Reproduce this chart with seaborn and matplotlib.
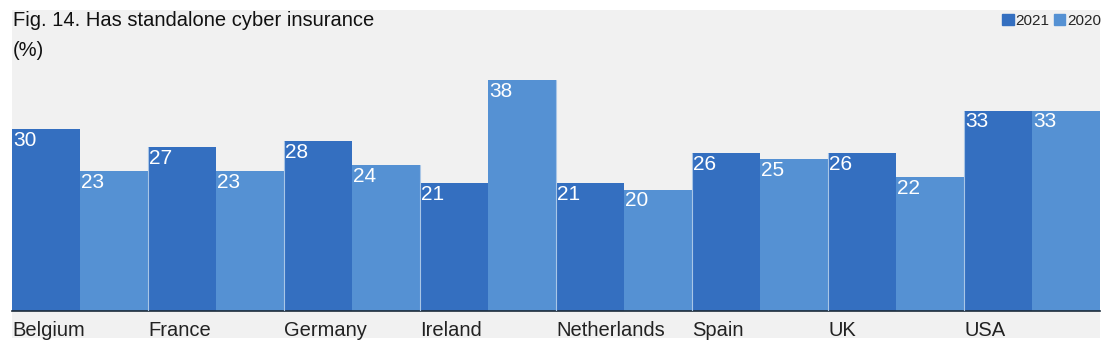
import pandas as pd
import matplotlib
matplotlib.use("Agg")
import matplotlib.pyplot as plt
import matplotlib.transforms as mtransforms
import seaborn as sns
from matplotlib.patches import Rectangle

countries = ["Belgium", "France", "Germany", "Ireland", "Netherlands", "Spain", "UK", "USA"]
years = ["2021", "2020"]
values_2021 = [30, 27, 28, 21, 21, 26, 26, 33]
values_2020 = [23, 23, 24, 38, 20, 25, 22, 33]
colors = {"2021": "#346fc0", "2020": "#5591d3"}

df = pd.DataFrame({
    "country": countries * 2,
    "year": ["2021"] * len(countries) + ["2020"] * len(countries),
    "value": values_2021 + values_2020,
})

sns.set_theme(style="white")
plt.rcParams["font.family"] = ["Liberation Sans", "DejaVu Sans"]

W, H = 1115, 351
fig = plt.figure(figsize=(W / 100, H / 100), dpi=100, facecolor="white")

# grey panel behind everything
fig.patches.append(Rectangle((12 / W, 13 / H), 1088 / W, 328 / H,
                             transform=fig.transFigure, facecolor="#f1f1f1",
                             edgecolor="none", zorder=-10))

ax = fig.add_axes([12 / W, 40 / H, 1088 / W, 243 / H])
ax.set_facecolor("none")

sns.barplot(data=df, x="country", y="value", hue="year", hue_order=years,
            palette=colors, width=1.0, dodge=True, gap=0, saturation=1,
            edgecolor="none", linewidth=0, legend=False, ax=ax)

ax.set_xlim(-0.5, len(countries) - 0.5)
ax.set_ylim(0, 40)

# thin light separator between country groups
for i in range(1, len(countries)):
    ax.axvline(i - 0.5, ymin=0, ymax=max(values_2020[i - 1], values_2021[i]) / 40,
               color="#a9c6e6", lw=0.8, zorder=3)

for container in ax.containers:
    for bar in container:
        h = bar.get_height()
        ax.text(bar.get_x() + 0.01, h - 0.3, f"{h:.0f}", color="white",
                fontsize=15, ha="left", va="top", zorder=4)

for sp in ["top", "right", "left"]:
    ax.spines[sp].set_visible(False)
ax.spines["bottom"].set_color("#1c2b3a")
ax.spines["bottom"].set_linewidth(1.2)

ax.set_yticks([])
ax.set_xlabel("")
ax.set_ylabel("")
ax.set_xticks(range(len(countries)))
ax.set_xticklabels(countries, fontsize=14.5, color="#222222", ha="left")
ax.tick_params(axis="x", length=0, pad=7)
# shift labels so they start at the group's left edge
offset = mtransforms.ScaledTranslation(-68 / 100, 0, fig.dpi_scale_trans)
for lbl in ax.get_xticklabels():
    lbl.set_transform(lbl.get_transform() + offset)

fig.text(13 / W, 1 - 20 / H, "Fig. 14. Has standalone cyber insurance",
         fontsize=14.5, color="#111111", va="center", ha="left")
fig.text(13 / W, 1 - 50 / H, "(%)", fontsize=14.5, color="#111111", va="center", ha="left")

# legend
handles = [Rectangle((0, 0), 1, 1, color=colors[y]) for y in years]
fig.legend(handles, years, loc="upper right", bbox_to_anchor=(1101 / W, 1 - 14 / H),
           ncol=2, frameon=False, fontsize=11, handlelength=0.75, handleheight=0.75,
           handletextpad=0.1, columnspacing=0.3, borderpad=0, borderaxespad=0)

fig.savefig("out.png", dpi=100, facecolor="white")
